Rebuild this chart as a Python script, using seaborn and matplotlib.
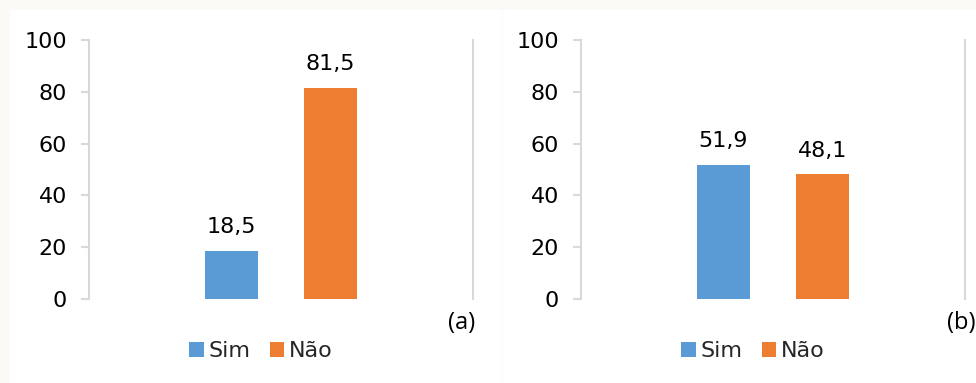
import matplotlib
matplotlib.use("Agg")
import matplotlib.pyplot as plt
from matplotlib.patches import Patch, Rectangle
import seaborn as sns
import pandas as pd

# Data
categorias = ["Sim", "Não"]
valores_a = [18.5, 81.5]
valores_b = [51.9, 48.1]
paineis = ["(a)", "(b)"]
yticks = [0, 20, 40, 60, 80, 100]

cores = {"Sim": "#5B9BD5", "Não": "#ED7D31"}
cinza = "#D9D9D9"

sns.set_theme(style="white")
plt.rcParams["font.family"] = ["DejaVu Sans"]

W, H = 976, 383
fig = plt.figure(figsize=(W / 100, H / 100), dpi=100)
fig.patch.set_facecolor("#FCFAF7")

# white chart areas
for x0, x1 in [(10, 502), (503, 976)]:
    fig.add_artist(Rectangle((x0 / W, 0), (x1 - x0) / W, (H - 10) / H,
                             transform=fig.transFigure, facecolor="white",
                             edgecolor="none", zorder=0))

def px_axes(left, right, top, bottom):
    return fig.add_axes([left / W, 1 - bottom / H, (right - left) / W, (bottom - top) / H])

layout = [
    dict(ax=(89, 473, 40, 299), vals=valores_a, leg_x=261, lab_x=475),
    dict(ax=(581, 965, 40, 299), vals=valores_b, leg_x=753, lab_x=976),
]

FS = 16

for spec, painel in zip(layout, paineis):
    ax = px_axes(*spec["ax"])
    ax.set_facecolor("none")
    df = pd.DataFrame({"Resposta": categorias, "Valor": spec["vals"]})
    sns.barplot(data=df, x="Resposta", y="Valor", hue="Resposta",
                palette=cores, width=0.535, legend=False, ax=ax,
                saturation=1, linewidth=0)
    half = 3.879 / 2
    ax.set_xlim(0.5 - half, 0.5 + half)
    ax.set_ylim(0, 100)
    ax.set_yticks(yticks)
    ax.set_yticklabels([str(t) for t in yticks], fontsize=FS, color="black")
    ax.set_xticks([])
    ax.set_xlabel("")
    ax.set_ylabel("")
    for s in ["top", "bottom"]:
        ax.spines[s].set_visible(False)
    for s in ["left", "right"]:
        ax.spines[s].set_visible(True)
        ax.spines[s].set_color(cinza)
        ax.spines[s].set_linewidth(1.5)
    ax.tick_params(axis="y", which="major", direction="out", length=5.8,
                   width=1.5, color=cinza, pad=10, left=True, right=False)
    for cont, v in zip(ax.containers, spec["vals"]):
        ax.bar_label(cont, labels=[f"{v:.1f}".replace(".", ",")],
                     padding=10, fontsize=FS, color="black")

    fig.text(spec["lab_x"] / W, 1 - 323 / H, painel, ha="right", va="center",
             fontsize=17, family="Open Sans", color="black")

    handles = [Patch(facecolor=cores[c], edgecolor="none") for c in categorias]
    fig.legend(handles, categorias, loc="center",
               bbox_to_anchor=(spec["leg_x"] / W, 1 - 351 / H), ncol=2,
               frameon=False, fontsize=FS, handlelength=0.65, handleheight=0.65,
               handletextpad=0.22, columnspacing=0.85, borderaxespad=0,
               borderpad=0)

fig.savefig("out.png", dpi=100, facecolor=fig.get_facecolor())
